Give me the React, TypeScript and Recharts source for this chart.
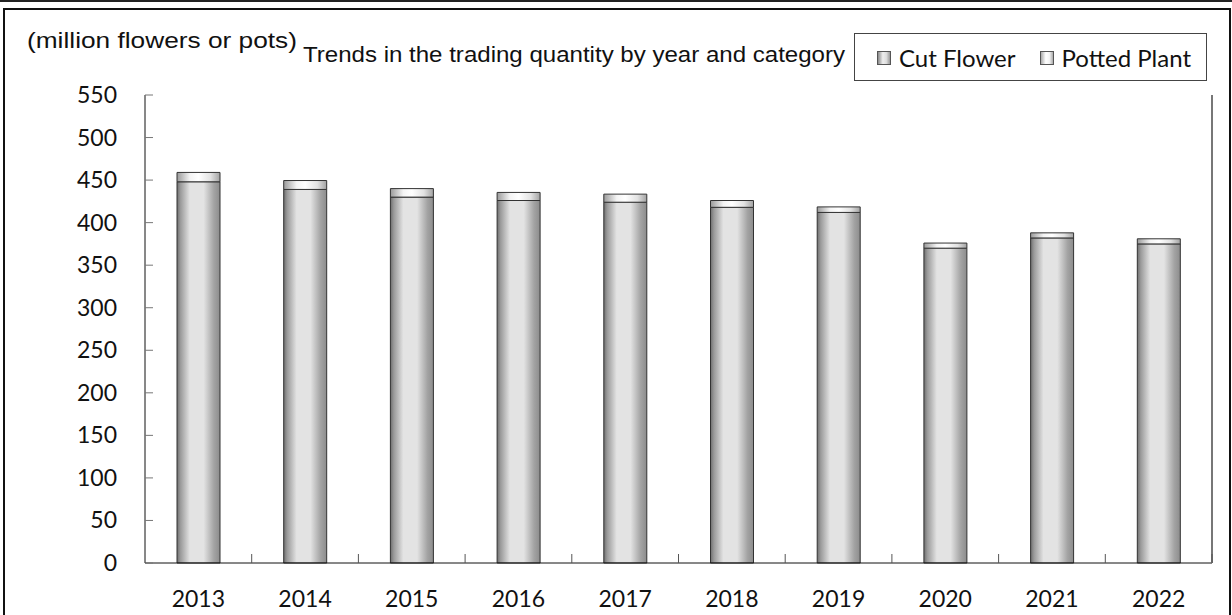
import { BarChart, Bar, XAxis, YAxis } from "recharts"

const years = ["2013", "2014", "2015", "2016", "2017", "2018", "2019", "2020", "2021", "2022"]
const cutFlower = [448, 439, 430, 426, 424, 418, 412, 370, 382, 375]
const pottedPlant = [11, 10.5, 10, 9.5, 9.5, 8, 6.5, 6, 6, 6]
const yTicks = [0, 50, 100, 150, 200, 250, 300, 350, 400, 450, 500, 550]

const data = years.map((year, i) => ({ year, cut: cutFlower[i], potted: pottedPlant[i] }))

const W = 1232
const H = 615
const LEFT = 145
const RIGHT = 20
const BAND = (W - LEFT - RIGHT) / years.length
const NUM_FONT = "Lato, 'Open Sans', sans-serif"

function XTick(props: any) {
  const { x, y, payload } = props
  return (
    <g>
      <line x1={x + BAND / 2} x2={x + BAND / 2} y1={y} y2={y - 9} stroke="#555" strokeWidth={1} />
      <text x={x} y={y + 44} textAnchor="middle" fontSize={23} fontFamily={NUM_FONT} fill="#111">
        {payload.value}
      </text>
    </g>
  )
}

function YTick(props: any) {
  const { x, y, payload } = props
  return (
    <g>
      <line x1={x} x2={x + 8} y1={y} y2={y} stroke="#777" strokeWidth={1} />
      <text x={x - 28} y={y} dy={8} textAnchor="end" fontSize={23} fontFamily={NUM_FONT} fill="#111">
        {payload.value}
      </text>
    </g>
  )
}

function LegendBox() {
  const icon = (bg: string) => (
    <span
      style={{
        display: "inline-block",
        width: 12,
        height: 12,
        border: "1px solid #555",
        background: bg,
        marginRight: 8,
        verticalAlign: "middle",
        position: "relative",
        top: -2,
      }}
    />
  )
  return (
    <div
      style={{
        position: "absolute",
        left: 854,
        top: 33,
        width: 353,
        height: 48,
        boxSizing: "border-box",
        border: "1px solid #444",
        background: "#fff",
        display: "flex",
        alignItems: "center",
        paddingLeft: 22,
        fontFamily: NUM_FONT,
        fontSize: 24,
        color: "#111",
        whiteSpace: "nowrap",
      }}
    >
      <span style={{ marginRight: 24 }}>
        {icon("linear-gradient(to right, #888, #eee 40%, #ddd 70%, #999)")}
        Cut Flower
      </span>
      <span>
        {icon("linear-gradient(to right, #aaa, #fff 40%, #f4f4f4 70%, #aaa)")}
        Potted Plant
      </span>
    </div>
  )
}

export default function App() {
  return (
    <div style={{ position: "fixed", left: 0, top: 0, width: W, height: H, background: "#fff", overflow: "hidden" }}>
      <div style={{ position: "absolute", left: 0, top: 0, width: W, height: 2, background: "#222" }} />
      <div
        style={{
          position: "absolute",
          left: 3,
          top: 8,
          width: 1228,
          height: 700,
          boxSizing: "border-box",
          border: "2px solid #111",
        }}
      />
      <svg width={W} height={90} style={{ position: "absolute", left: 0, top: 0 }}>
        <text
          x={27}
          y={48}
          fontSize={22}
          fontFamily="'Liberation Sans', Arial, sans-serif"
          fill="#111"
          textLength={270}
          lengthAdjust="spacingAndGlyphs"
        >
          (million flowers or pots)
        </text>
        <text
          x={303}
          y={62}
          fontSize={22}
          fontFamily="'Liberation Sans', Arial, sans-serif"
          fill="#111"
          textLength={542}
          lengthAdjust="spacingAndGlyphs"
        >
          Trends in the trading quantity by year and category
        </text>
      </svg>
      <div style={{ position: "absolute", left: 0, top: 0 }}>
        <BarChart width={W} height={H} data={data} margin={{ top: 95, right: 0, bottom: 0, left: 0 }}>
          <defs>
            <linearGradient id="cutGrad" x1="0" y1="0" x2="1" y2="0">
              <stop offset="0" stopColor="#6e6e6e" />
              <stop offset="0.08" stopColor="#9a9a9a" />
              <stop offset="0.3" stopColor="#e3e3e3" />
              <stop offset="0.62" stopColor="#e3e3e3" />
              <stop offset="0.86" stopColor="#a3a3a3" />
              <stop offset="1" stopColor="#8c8c8c" />
            </linearGradient>
            <linearGradient id="potGrad" x1="0" y1="0" x2="1" y2="0">
              <stop offset="0" stopColor="#9a9a9a" />
              <stop offset="0.3" stopColor="#f4f4f4" />
              <stop offset="0.5" stopColor="#ffffff" />
              <stop offset="0.78" stopColor="#e2e2e2" />
              <stop offset="1" stopColor="#a2a2a2" />
            </linearGradient>
          </defs>
          <XAxis
            dataKey="year"
            height={52}
            tickSize={0}
            tickMargin={0}
            tickLine={false}
            axisLine={{ stroke: "#111", strokeWidth: 1 }}
            tick={<XTick />}
            interval={0}
          />
          <XAxis
            xAxisId="top"
            dataKey="year"
            orientation="top"
            height={0}
            tick={false}
            tickLine={false}
            axisLine={{ stroke: "#111", strokeWidth: 1 }}
          />
          <YAxis
            width={LEFT}
            domain={[0, 550]}
            ticks={yTicks}
            interval={0}
            tickSize={0}
            tickMargin={0}
            tickLine={false}
            axisLine={{ stroke: "#111", strokeWidth: 1 }}
            tick={<YTick />}
          />
          <YAxis
            yAxisId="right"
            orientation="right"
            width={RIGHT}
            domain={[0, 550]}
            tick={false}
            tickLine={false}
            axisLine={{ stroke: "#777", strokeWidth: 2 }}
          />
          <Bar dataKey="cut" name="Cut Flower" stackId="a" barSize={43} fill="url(#cutGrad)" stroke="#333" strokeWidth={1} isAnimationActive={false} />
          <Bar dataKey="potted" name="Potted Plant" stackId="a" barSize={43} fill="url(#potGrad)" stroke="#333" strokeWidth={1} isAnimationActive={false} />
        </BarChart>
      </div>
      <LegendBox />
    </div>
  )
}
